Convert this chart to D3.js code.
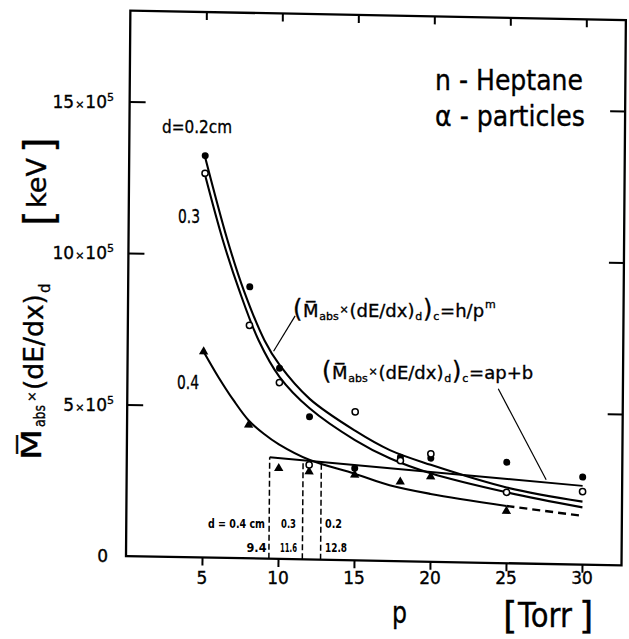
<!DOCTYPE html>
<html><head><meta charset="utf-8">
<script src="https://cdn.jsdelivr.net/npm/d3@7"></script>
<style>
body{margin:0;background:#fff;}
svg{display:block;}
text{font-family:"DejaVu Sans",sans-serif;fill:#000;stroke:#000;stroke-width:0.35px;}
</style></head><body>
<svg id="c" width="629" height="639"></svg>
<script>
// ---- data (values in units of 10^5 keV, pressure p in Torr) ----
const pressures   = [5, 8, 10, 12, 15, 18, 20, 25, 30];
const filled02    = [13.26, 8.96, 6.29, 4.71, 3.04, 3.43, 3.42, 3.33, 2.89]; // d = 0.2 cm
const open03      = [12.68, 7.69, 5.82, 3.12, 4.90, 3.32, 3.56, 2.34, 2.41]; // d = 0.3 cm
const triPressures= [5, 8, 10, 12, 15, 18, 20, 25];
const tri04       = [6.79, 4.40, 2.99, 2.90, 2.82, 2.62, 2.81, 1.72];        // d = 0.4 cm

const curve02P = [5, 6.5, 7.6, 9, 10, 12, 15, 17.3, 20, 25, 30];
const curve02V = [13.2, 10.5, 8.85, 7.2, 6.4, 5.3, 4.28, 3.66, 3.2, 2.5, 2.08];
const curve03P = [5, 6.2, 7.3, 8.6, 10, 12, 15, 17.3, 20, 25, 30];
const curve03V = [12.62, 10.49, 8.85, 7.21, 6.01, 4.99, 3.97, 3.39, 2.92, 2.34, 1.89];
const curve04P = [5, 6, 7, 8, 9, 10, 12, 15, 17.3, 20, 25];
const curve04V = [6.79, 5.95, 5.2, 4.55, 4.12, 3.78, 3.29, 2.86, 2.5, 2.24, 1.89];
const curve04ExtP = [25, 30];
const curve04ExtV = [1.89, 1.61];
const linP = [9.4, 30];
const linV = [3.35, 2.60];
const cutP   = [9.4, 11.6, 12.8];
const cutTop = [3.35, 3.27, 3.22];
const cutLabels  = ["d = 0.4 cm", "0.3", "0.2"];
const cutValues  = ["9.4", "11.6", "12.8"];

const xTicks = [5, 10, 15, 20, 25, 30];
const yTicks = [0, 5, 10, 15];

// ---- scales ----
const x = d3.scaleLinear().domain([0, 32.6]).range([126, 621.5]);
const y = d3.scaleLinear().domain([0, 18]).range([556, 10.6]);

const svg = d3.select('#c');
// slight shear of the scanned original
const g = svg.append('g').attr('transform', 'matrix(1,0.019,-0.008,1,4.45,-2.39)');

// frame
g.append('rect').attr('x', x(0)).attr('y', y(18)).attr('width', x(32.6) - x(0)).attr('height', y(0) - y(18))
  .attr('fill', 'none').attr('stroke', '#000').attr('stroke-width', 2.3);

// axes (ticks only)
function styleAxis(sel){ sel.select('.domain').remove(); sel.selectAll('text').remove();
  sel.selectAll('line').attr('stroke','#000').attr('stroke-width',2); }
g.append('g').attr('transform', `translate(0,${y(0)})`)
  .call(d3.axisBottom(x).tickValues(xTicks).tickSize(8)).call(styleAxis);
g.append('g').attr('transform', `translate(0,${y(18)})`)
  .call(d3.axisTop(x).tickValues(xTicks).tickSize(-8)).call(styleAxis);
g.append('g').attr('transform', `translate(${x(0)},0)`)
  .call(d3.axisLeft(y).tickValues(yTicks.filter(v=>v>0)).tickSize(-16)).call(styleAxis);
g.append('g').attr('transform', `translate(${x(32.6)},0)`)
  .call(d3.axisRight(y).tickValues(yTicks.filter(v=>v>0)).tickSize(-15)).call(styleAxis);

// curves
const line = d3.line().x(d => x(d[0])).y(d => y(d[1])).curve(d3.curveCatmullRom.alpha(0.5));
const straight = d3.line().x(d => x(d[0])).y(d => y(d[1]));
function drawCurve(P, V, sw, dash, gen){
  g.append('path').attr('d', (gen||line)(P.map((p,i)=>[p, V[i]])))
   .attr('fill','none').attr('stroke','#000').attr('stroke-width', sw)
   .attr('stroke-dasharray', dash || null);
}
drawCurve(curve02P, curve02V, 2.1);
drawCurve(curve03P, curve03V, 2.1);
drawCurve(curve04P, curve04V, 2.1);
drawCurve(curve04ExtP, curve04ExtV, 2.4, '8,5', straight);
drawCurve(linP, linV, 1.9, null, straight);

// dashed verticals
cutP.forEach((p,i)=>{
  g.append('line').attr('x1', x(p)).attr('x2', x(p)).attr('y1', y(0)).attr('y2', y(cutTop[i]))
   .attr('stroke','#000').attr('stroke-width',1.5).attr('stroke-dasharray','6,3');
});

// leader lines
g.append('line').attr('x1', x(11.0)).attr('y1', y(8.03)).attr('x2', x(9.6)).attr('y2', y(6.85))
  .attr('stroke','#000').attr('stroke-width',1.2);
g.append('line').attr('x1', x(24.4)).attr('y1', y(5.75)).attr('x2', x(27.6)).attr('y2', y(2.78))
  .attr('stroke','#000').attr('stroke-width',1.2);

// markers
g.selectAll('.tri').data(triPressures).join('path')
  .attr('d', d3.symbol(d3.symbolTriangle).size(38))
  .attr('transform', (p,i)=>`translate(${x(p)},${y(tri04[i])})`).attr('fill','#000');
g.selectAll('.f02').data(pressures).join('circle')
  .attr('cx', p=>x(p)).attr('cy', (p,i)=>y(filled02[i])).attr('r',3.5).attr('fill','#000');
g.selectAll('.o03').data(pressures).join('circle')
  .attr('cx', p=>x(p)).attr('cy', (p,i)=>y(open03[i])).attr('r',3.1)
  .attr('fill','#fff').attr('stroke','#000').attr('stroke-width',1.5);

// ---- text ----
// x tick labels
svg.selectAll('.xl').data(xTicks).join('text')
  .attr('x', p=>x(p)).attr('y', 584).attr('text-anchor','middle').attr('font-size',17)
  .text(p=>p);
// y tick labels
yTicks.forEach(v=>{
  const t = svg.append('text').attr('x', v===0?108:114).attr('y', y(v)+6).attr('text-anchor','end').attr('font-size',17);
  if(v===0){ t.text('0'); return; }
  t.append('tspan').text(v);
  t.append('tspan').attr('font-size',11).attr('dx',1).text('×');
  t.append('tspan').attr('dx',1).text('10');
  t.append('tspan').attr('font-size',11).attr('dy',-7).text('5');
});

// axis titles
svg.append('text').attr('x',392).attr('y',623).attr('font-size',30).attr('textLength',15).attr('lengthAdjust','spacingAndGlyphs').text('p');
svg.append('text').attr('x',503).attr('y',629).attr('font-size',37).text('[');
svg.append('text').attr('x',518).attr('y',627).attr('font-size',33).attr('textLength',54).attr('lengthAdjust','spacingAndGlyphs').text('Torr');
svg.append('text').attr('x',579).attr('y',629).attr('font-size',37).text(']');

const yl = svg.append('g').attr('transform','translate(41,460) rotate(-90)');
yl.append('text').attr('x',0).attr('y',0).attr('font-size',26).attr('textLength',31).attr('lengthAdjust','spacingAndGlyphs').text('M\u0305');
yl.append('text').attr('x',33).attr('y',4).attr('font-size',15).attr('textLength',22).attr('lengthAdjust','spacingAndGlyphs').text('abs');
yl.append('text').attr('x',58).attr('y',-5).attr('font-size',13).text('×');
yl.append('text').attr('x',70).attr('y',2).attr('font-size',26).attr('textLength',96).attr('lengthAdjust','spacingAndGlyphs').text('(dE/dx)');
yl.append('text').attr('x',167).attr('y',9).attr('font-size',15).text('d');
yl.append('text').attr('x',234).attr('y',12).attr('font-size',40).text('[');
yl.append('text').attr('x',252).attr('y',5).attr('font-size',26).attr('textLength',50).attr('lengthAdjust','spacingAndGlyphs').text('keV');
yl.append('text').attr('x',307).attr('y',12).attr('font-size',40).text(']');

// title
svg.append('text').attr('x',435).attr('y',90).attr('font-size',28).attr('textLength',148).attr('lengthAdjust','spacingAndGlyphs').text('n - Heptane');
svg.append('text').attr('x',435).attr('y',126).attr('font-size',28).attr('textLength',150).attr('lengthAdjust','spacingAndGlyphs').text('α - particles');

// curve labels
svg.append('text').attr('x',162).attr('y',133).attr('font-size',18).attr('textLength',70).attr('lengthAdjust','spacingAndGlyphs').text('d=0.2cm');
svg.append('text').attr('x',178).attr('y',223).attr('font-size',19).attr('textLength',22).attr('lengthAdjust','spacingAndGlyphs').text('0.3');
svg.append('text').attr('x',177).attr('y',389).attr('font-size',19).attr('textLength',22).attr('lengthAdjust','spacingAndGlyphs').text('0.4');

// formula labels (natural width, small gaps so pieces do not collide)
function formula(x0, y0, tail){
  const t = svg.append('text').attr('x',x0).attr('y',y0);
  t.append('tspan').attr('font-size',24).text('(');
  t.append('tspan').attr('font-size',18).attr('dx',0.5).text('M\u0305');
  t.append('tspan').attr('font-size',11).attr('dx',0.8).attr('dy',3).text('abs');
  t.append('tspan').attr('font-size',11).attr('dx',0.8).attr('dy',-7).text('×');
  t.append('tspan').attr('font-size',18).attr('dx',0.8).attr('dy',4).text('(dE/dx)');
  t.append('tspan').attr('font-size',11).attr('dx',0.8).attr('dy',3).text('d');
  t.append('tspan').attr('font-size',24).attr('dx',0.8).attr('dy',-3).text(')');
  t.append('tspan').attr('font-size',11).attr('dx',0.8).attr('dy',3).text('c');
  t.append('tspan').attr('font-size',18).attr('dx',0.8).attr('dy',-3).text(tail[0]);
  if(tail[1]) t.append('tspan').attr('font-size',11).attr('dx',0.8).attr('dy',-9).text(tail[1]);
}
formula(293, 317, ['=h/p','m']);
formula(322, 379, ['=ap+b']);

// cut labels
const cutX1 = [265, 281, 325];
cutLabels.forEach((s,i)=>{
  svg.append('text').attr('x',cutX1[i]).attr('y',528).attr('font-size',12.5).attr('font-weight','bold')
    .attr('text-anchor', i===0?'end':'start').style('stroke-width','0px')
    .attr('textLength', [57,15,17][i]).attr('lengthAdjust','spacingAndGlyphs').text(s);
});
cutValues.forEach((s,i)=>{
  svg.append('text').attr('x',[266.5,280,325][i]).attr('y',552).attr('font-size',12.5).attr('font-weight','bold')
    .attr('text-anchor', i===0?'end':'start').style('stroke-width','0px')
    .attr('textLength', [20,17,22][i]).attr('lengthAdjust','spacingAndGlyphs').text(s);
});
</script>
</body></html>
